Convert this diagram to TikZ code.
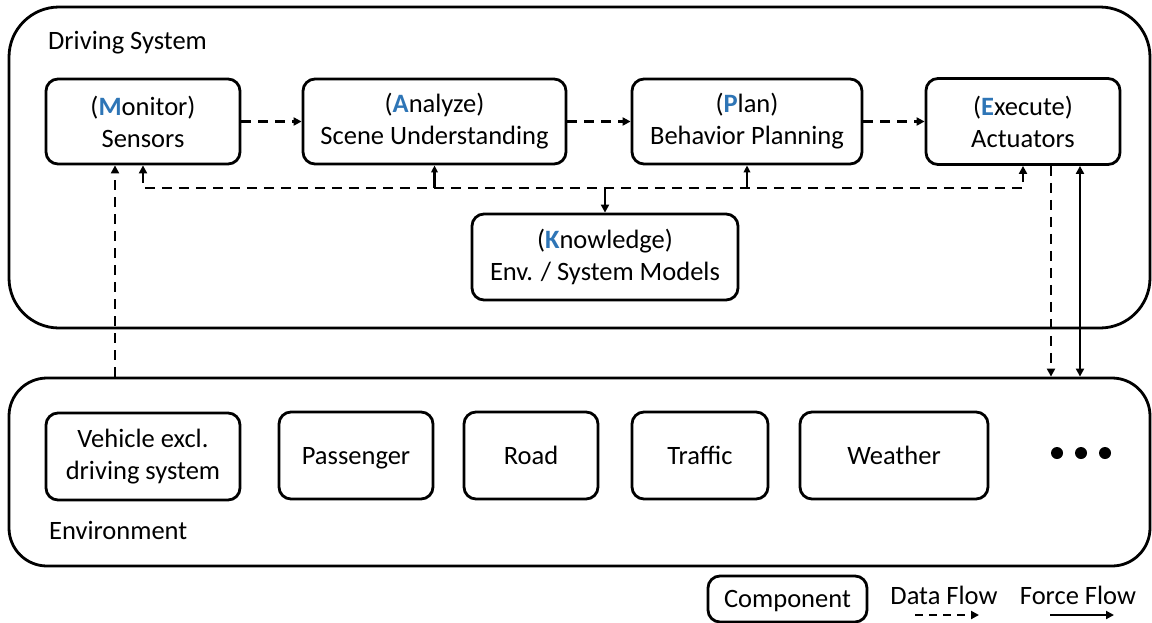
\documentclass[tikz,border=0pt]{standalone}
\usepackage{fontspec}
\setmainfont{Carlito}
\usetikzlibrary{arrows.meta}
\definecolor{mblue}{HTML}{2E75B6}
\newcommand{\bl}[1]{\textcolor{mblue}{\textbf{#1}}}
\tikzset{
  comp/.style={draw, line width=2.8pt, rounded corners=12pt, align=center, inner sep=0pt},
  one/.style={text height=17pt, text depth=0pt},
  outer/.style={draw, line width=2.8pt, inner sep=0pt},
  tip/.style={-{Triangle[length=8pt,width=8pt]}},
  dflow/.style={line width=2.8pt, dash pattern=on 10pt off 7pt},
  sflow/.style={line width=2.8pt},
  small/.style={-{Triangle[length=7pt,width=6.5pt]}},
}
\begin{document}
\begin{tikzpicture}[x=1pt,y=-1pt,font=\fontsize{26.5}{32}\selectfont]
\useasboundingbox (0,0) rectangle (1152,622);
% outer containers
\node[outer, rounded corners=50pt, minimum width=1141pt, minimum height=321pt] (ds) at (579.5,167.5) {};
\node[outer, rounded corners=38pt, minimum width=1141pt, minimum height=188pt] (env) at (579.5,472) {};
\node[anchor=west, inner sep=0pt, one] (dslabel) at (48,41) {Driving System};
\node[anchor=west, inner sep=0pt, one] (envlabel) at (49,531) {Environment};
% MAPE-K components
\node[comp, minimum width=194pt, minimum height=85pt] (sensors) at (143,121.5) {(\bl{M}onitor)\\Sensors};
\node[comp, minimum width=263pt, minimum height=85pt] (analyze) at (434.5,121.5) {(\bl{A}nalyze)\\Scene Understanding};
\node[comp, minimum width=230pt, minimum height=85pt] (plan) at (747,121.5) {(\bl{P}lan)\\Behavior Planning};
\node[comp, minimum width=194pt, minimum height=86pt] (execute) at (1023,121.5) {(\bl{E}xecute)\\Actuators};
\node[comp, minimum width=266pt, minimum height=86pt] (knowledge) at (605,257) {(\bl{K}nowledge)\\Env. / System Models};
% environment components
\node[comp, minimum width=194pt, minimum height=87pt] (vehicle) at (143,456.5) {Vehicle excl.\\driving system};
\node[comp, one, minimum width=154pt, minimum height=87pt] (passenger) at (356,455.5) {Passenger};
\node[comp, one, minimum width=134pt, minimum height=87pt] (road) at (531,455.5) {Road};
\node[comp, one, minimum width=136pt, minimum height=87pt] (traffic) at (700,455.5) {Traffic};
\node[comp, one, minimum width=188pt, minimum height=87pt] (weather) at (894,455.5) {Weather};
\fill (1057,453) circle (6pt);
\fill (1081,453) circle (6pt);
\fill (1105,453) circle (6pt);
% data flow between MAPE stages
\draw[dflow, tip] (sensors.east) -- (analyze.west);
\draw[dflow, tip] (analyze.east) -- (plan.west);
\draw[dflow, tip] (plan.east) -- (execute.west);
% knowledge bus
\coordinate (bus) at (605,188);
\draw[dflow, {Triangle[length=8pt,width=8pt]}-{Triangle[length=8pt,width=8pt]}] (sensors.south) |- (bus) -| (execute.south);
\draw[sflow, small] (bus -| analyze.south) -- (analyze.south);
\draw[sflow, small] (bus -| plan.south) -- (plan.south);
\draw[sflow, tip] (bus) -- (knowledge.north);
% environment links
\coordinate (mx) at (115,0);
\coordinate (ex) at (1051,0);
\coordinate (fx) at (1080,0);
\draw[dflow, tip] (env.north -| mx) -- (sensors.south -| mx);
\draw[dflow, tip] (execute.south -| ex) -- (env.north -| ex);
\draw[sflow, {Triangle[length=8pt,width=8pt]}-{Triangle[length=8pt,width=8pt]}] (execute.south -| fx) -- (env.north -| fx);
% legend
\node[comp, one, minimum width=159pt, minimum height=46pt] (legcomp) at (787.5,599) {Component};
\node[inner sep=0pt, one] (legdata) at (944,596) {Data Flow};
\node[inner sep=0pt, one] (legforce) at (1078,596) {Force Flow};
\coordinate (d1) at (915,615);
\coordinate (d2) at (979,615);
\coordinate (f1) at (1050,615);
\coordinate (f2) at (1114,615);
\draw[line width=2.8pt, dash pattern=on 8pt off 6pt, tip] (d1) -- (d2);
\draw[sflow, tip] (f1) -- (f2);
\end{tikzpicture}
\end{document}
